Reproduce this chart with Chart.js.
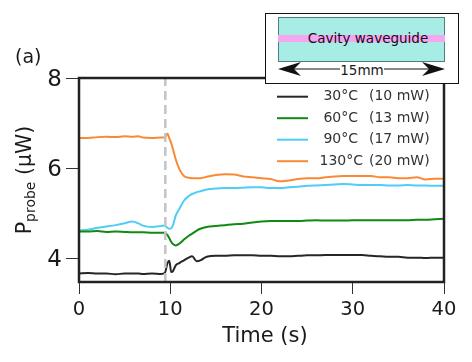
<!DOCTYPE html>
<html>
<head>
<meta charset="utf-8">
<script src="https://cdn.jsdelivr.net/npm/chart.js@4"></script>
<style>
  html, body { margin: 0; padding: 0; background: #fff; }
  body { width: 472px; height: 362px; position: relative; overflow: hidden; font-family: "DejaVu Sans", sans-serif; color: #1a1a1a; }
  canvas { position: absolute; left: 0; top: 0; }
  .abs { position: absolute; white-space: nowrap; }
  #inset { left: 265px; top: 12.5px; width: 192px; height: 69px; border: 1.5px solid #111; background: #fff; }
  #cavity { left: 12px; top: 3px; width: 165px; height: 43px; background: #a8ece6; border: 1px solid #4f7f7c; }
  #guide { left: 12px; top: 21.5px; width: 167px; height: 7px; background: #f5a6ee; }
  #cavityText { left: 0; width: 192px; top: 16px; padding-left: 12px; box-sizing: border-box; text-align: center; font-size: 13.5px; color: #1c0a20; }
  #sizeText { left: 0; width: 192px; top: 48px; text-align: center; font-size: 13.5px; }
  #arrow { left: 0; top: 0; }
  #panel { left: 15px; top: 45px; font-size: 19px; }
  #yTitle { left: 25px; top: 180px; font-size: 20.5px; transform: translate(-50%, -50%) rotate(-90deg); }
  #yTitle sub { font-size: 14px; vertical-align: -4px; }
  #xTitle { left: 265px; top: 335px; font-size: 21px; transform: translate(-50%, -50%); }
</style>
</head>
<body>
<canvas id="chart" width="472" height="362"></canvas>
<div class="abs" id="panel">(a)</div>
<div class="abs" id="yTitle">P<sub>probe</sub> (µW)</div>
<div class="abs" id="xTitle">Time (s)</div>
<div class="abs" id="inset">
  <div class="abs" id="cavity"></div>
  <div class="abs" id="guide"></div>
  <div class="abs" id="cavityText">Cavity waveguide</div>
  <svg class="abs" id="arrow" width="192" height="70">
    <line x1="18" y1="55" x2="174" y2="55" stroke="#111" stroke-width="1"/>
    <path d="M12 55 L35 48 L28 55 L35 62 Z" fill="#111"/>
    <path d="M179 55 L156 48 L163 55 L156 62 Z" fill="#111"/>
    <rect x="74" y="48" width="44" height="14" fill="#fff"/>
  </svg>
  <div class="abs" id="sizeText">15mm</div>
</div>
<script>
const times = [0, 1, 2, 3, 4, 5, 5.8, 6.5, 7, 8, 9, 9.4, 9.7, 9.9, 10.1, 10.3, 10.6, 11, 11.5, 12, 12.4, 12.9, 13.3, 14, 15, 16, 17, 18, 19, 20, 21, 22, 23, 24, 25, 26, 27, 28, 29, 30, 31, 32, 33, 34, 35, 36, 37, 38, 39, 40];
const black30 = [3.67, 3.68, 3.67, 3.67, 3.65, 3.67, 3.67, 3.67, 3.66, 3.67, 3.66, 3.68, 3.9, 3.95, 3.7, 3.72, 3.85, 3.9, 3.96, 4.02, 4.05, 3.94, 3.96, 4.04, 4.06, 4.06, 4.07, 4.07, 4.07, 4.06, 4.06, 4.05, 4.05, 4.06, 4.07, 4.07, 4.08, 4.08, 4.08, 4.08, 4.08, 4.06, 4.05, 4.04, 4.04, 4.02, 4.02, 4.01, 4.02, 4.02];
const green60 = [4.6, 4.6, 4.61, 4.59, 4.6, 4.59, 4.58, 4.58, 4.58, 4.57, 4.57, 4.57, 4.52, 4.45, 4.37, 4.32, 4.29, 4.33, 4.42, 4.5, 4.55, 4.62, 4.66, 4.7, 4.72, 4.74, 4.76, 4.77, 4.8, 4.82, 4.83, 4.83, 4.83, 4.83, 4.84, 4.85, 4.84, 4.84, 4.84, 4.85, 4.85, 4.85, 4.85, 4.85, 4.85, 4.85, 4.86, 4.86, 4.87, 4.88];
const blue90 = [4.62, 4.64, 4.68, 4.71, 4.74, 4.78, 4.82, 4.78, 4.73, 4.7, 4.72, 4.73, 4.68, 4.66, 4.67, 4.74, 4.95, 5.1, 5.28, 5.38, 5.43, 5.47, 5.49, 5.53, 5.55, 5.56, 5.56, 5.57, 5.58, 5.58, 5.56, 5.56, 5.58, 5.59, 5.61, 5.62, 5.63, 5.64, 5.65, 5.64, 5.63, 5.63, 5.63, 5.62, 5.62, 5.63, 5.62, 5.62, 5.61, 5.61];
const orange130 = [6.67, 6.67, 6.69, 6.7, 6.69, 6.71, 6.7, 6.71, 6.68, 6.67, 6.68, 6.68, 6.77, 6.66, 6.56, 6.42, 6.2, 5.98, 5.83, 5.79, 5.78, 5.78, 5.78, 5.81, 5.85, 5.87, 5.86, 5.82, 5.8, 5.78, 5.76, 5.71, 5.73, 5.76, 5.78, 5.78, 5.8, 5.82, 5.83, 5.83, 5.83, 5.83, 5.8, 5.8, 5.78, 5.78, 5.8, 5.75, 5.77, 5.77];
const switchTime = [9.46, 9.46];
const switchRange = [3.48, 8];
const seriesNames = ["30°C", "60°C", "90°C", "130°C"];
const seriesPowers = ["(10 mW)", "(13 mW)", "(17 mW)", "(20 mW)"];
const seriesColors = ["#262626", "#118a11", "#4fcdf7", "#f98a33"];
const xTicks = [0, 10, 20, 30, 40];
const yTicks = [4, 6, 8];

function toPoints(values) {
  return times.map((t, i) => ({ x: t, y: values[i] }));
}
function lineSet(values, color) {
  return { data: toPoints(values), borderColor: color, borderWidth: 2, pointRadius: 0, cubicInterpolationMode: "monotone" };
}

// frame and the legend inside the axes
const framePlugin = {
  id: "frame",
  afterDraw(chart) {
    const c = chart.ctx, a = chart.chartArea;
    c.save();
    c.strokeStyle = "#222";
    c.lineWidth = 2.5;
    c.strokeRect(a.left, a.top, a.right - a.left, a.bottom - a.top);
    c.font = '14px "DejaVu Sans"';
    c.fillStyle = "#333";
    c.textBaseline = "middle";
    seriesNames.forEach((name, i) => {
      const y = 96.7 + i * 21.5;
      c.strokeStyle = seriesColors[i];
      c.lineWidth = 2;
      c.beginPath();
      c.moveTo(277, y);
      c.lineTo(308, y);
      c.stroke();
      c.textAlign = "right";
      c.fillText(name, i === 3 ? 363 : 358, y);
      c.textAlign = "left";
      c.fillText(seriesPowers[i], 369, y);
    });
    c.restore();
  }
};

new Chart(document.getElementById("chart").getContext("2d"), {
  type: "line",
  data: {
    datasets: [
      { data: switchTime.map((t, i) => ({ x: t, y: switchRange[i] })), borderColor: "#c4c4c4", borderWidth: 2.5, borderDash: [9, 5], pointRadius: 0 },
      lineSet(black30, seriesColors[0]),
      lineSet(green60, seriesColors[1]),
      lineSet(blue90, seriesColors[2]),
      lineSet(orange130, seriesColors[3])
    ]
  },
  options: {
    responsive: false,
    animation: false,
    layout: { padding: { top: 78, right: 28, left: 0, bottom: 0 } },
    plugins: { legend: { display: false }, tooltip: { enabled: false } },
    scales: {
      x: {
        type: "linear",
        min: 0,
        max: 40,
        afterBuildTicks(scale) { scale.ticks = xTicks.map(v => ({ value: v })); },
        afterFit(scale) { scale.height = 80; },
        grid: { drawOnChartArea: false, tickLength: 12, tickColor: "#333", tickWidth: 1 },
        border: { display: false },
        ticks: { color: "#1a1a1a", font: { family: "DejaVu Sans", size: 19.5 }, padding: 4, maxRotation: 0 }
      },
      y: {
        min: 3.48,
        max: 8,
        afterBuildTicks(scale) { scale.ticks = yTicks.map(v => ({ value: v })); },
        afterFit(scale) { scale.width = 79; },
        grid: { drawOnChartArea: false, tickLength: 13, tickColor: "#333", tickWidth: 1 },
        border: { display: false },
        ticks: { color: "#1a1a1a", font: { family: "DejaVu Sans", size: 23 }, padding: 4, labelOffset: 2 }
      }
    }
  },
  plugins: [framePlugin]
});
</script>
</body>
</html>
